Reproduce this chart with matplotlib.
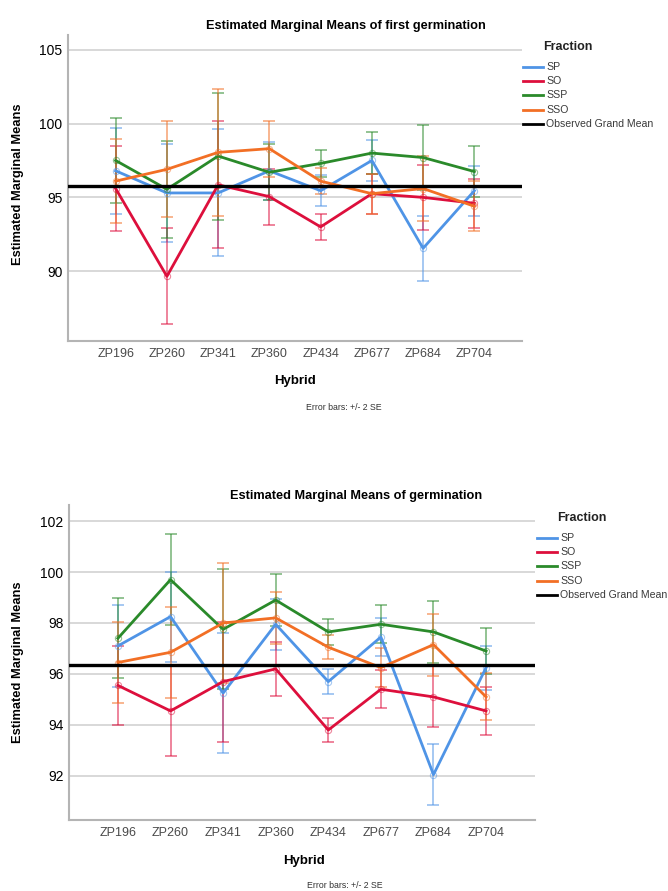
import matplotlib
matplotlib.use("Agg")
import matplotlib.pyplot as plt
import numpy as np

hybrids = ["ZP196", "ZP260", "ZP341", "ZP360", "ZP434", "ZP677", "ZP684", "ZP704"]
fractions = ["SP", "SO", "SSP", "SSO"]
colors = ["#4f94e6", "#dd0f3c", "#2a8a2a", "#f26f25"]

# first germination: means and 2*SE half widths
first_sp = [96.8, 95.3, 95.3, 96.8, 95.45, 97.5, 91.55, 95.45]
first_so = [95.6, 89.65, 95.85, 95.05, 93.0, 95.25, 95.0, 94.6]
first_ssp = [97.5, 95.55, 97.8, 96.7, 97.3, 98.0, 97.7, 96.75]
first_sso = [96.1, 96.9, 98.05, 98.3, 96.1, 95.25, 95.6, 94.4]
first_sp_err = [2.9, 3.3, 4.3, 1.95, 1.05, 1.4, 2.2, 1.7]
first_so_err = [2.85, 3.25, 4.3, 1.9, 0.9, 1.35, 2.2, 1.65]
first_ssp_err = [2.9, 3.3, 4.3, 1.9, 0.9, 1.4, 2.2, 1.7]
first_sso_err = [2.85, 3.25, 4.3, 1.9, 0.9, 1.35, 2.2, 1.7]
first_grand_mean = 95.74

# germination
germ_sp = [97.1, 98.25, 95.25, 97.95, 95.7, 97.45, 92.05, 96.25]
germ_so = [95.55, 94.55, 95.7, 96.2, 93.8, 95.4, 95.1, 94.55]
germ_ssp = [97.4, 99.7, 97.75, 98.9, 97.65, 97.95, 97.65, 96.9]
germ_sso = [96.45, 96.85, 98.0, 98.2, 97.05, 96.25, 97.15, 95.1]
germ_sp_err = [1.6, 1.77, 2.35, 1.0, 0.5, 0.75, 1.2, 0.86]
germ_so_err = [1.56, 1.78, 2.35, 1.07, 0.47, 0.75, 1.2, 0.93]
germ_ssp_err = [1.57, 1.78, 2.35, 1.03, 0.5, 0.75, 1.23, 0.91]
germ_sso_err = [1.58, 1.78, 2.35, 1.02, 0.48, 0.75, 1.22, 0.92]
germ_grand_mean = 96.35

plt.rcParams["font.family"] = ["Liberation Sans", "DejaVu Sans"]

W, H = 668, 891
fig = plt.figure(figsize=(W / 100, H / 100), dpi=100)


def px_axes(left, top, right, bottom):
    return fig.add_axes([left / W, 1 - bottom / H, (right - left) / W, (bottom - top) / H])


def ftext(x, y, s, **kw):
    fig.text(x / W, 1 - y / H, s, **kw)


def draw_panel(ax, means, errs, grand, ylim, yticks):
    x = np.arange(len(hybrids))
    for m, e, c in zip(means, errs, colors):
        ax.errorbar(x, m, yerr=e, fmt="none", ecolor=c, alpha=0.55,
                    elinewidth=1.3, capsize=4.5, capthick=1.3, zorder=2)
    for m, c in zip(means, colors):
        ax.plot(x, m, color=c, lw=2.0, zorder=3)
        ax.plot(x, m, ls="none", marker="o", ms=4.5, mfc="none", mec=c,
                mew=0.8, alpha=0.5, zorder=3)
    ax.axhline(grand, color="black", lw=2.4, zorder=4)
    ax.set_xlim(-0.93, len(hybrids) - 0.07)
    ax.set_ylim(*ylim)
    ax.set_yticks(yticks)
    ax.set_xticks(x)
    ax.set_xticklabels(hybrids, fontsize=9, color="#4a4a4a")
    ax.tick_params(axis="y", labelsize=10, length=0, pad=4)
    ax.tick_params(axis="x", length=0, pad=5)
    ax.yaxis.grid(True, color="#d6d6d6", lw=1.3)
    ax.set_axisbelow(True)
    for s in ["top", "right"]:
        ax.spines[s].set_visible(False)
    for s in ["left", "bottom"]:
        ax.spines[s].set_color("#b4b4b4")
        ax.spines[s].set_linewidth(1.5)


def draw_legend(x0, y0):
    ftext(x0 + 45, y0, "Fraction", fontsize=9, fontweight="bold",
          ha="center", va="center", color="#222222")
    names = fractions + ["Observed Grand Mean"]
    cols = colors + ["black"]
    for i, (n, c) in enumerate(zip(names, cols)):
        yy = y0 + 20 + i * 14.2
        fig.add_artist(plt.Line2D([x0 / W, (x0 + 20) / W], [1 - yy / H, 1 - yy / H],
                                  color=c, lw=2.0))
        ftext(x0 + 23, yy, n, fontsize=7.6, ha="left", va="center", color="#3a3a3a")


# top panel
ax1 = px_axes(68, 35, 522, 341)
draw_panel(ax1, [first_sp, first_so, first_ssp, first_sso],
           [first_sp_err, first_so_err, first_ssp_err, first_sso_err],
           first_grand_mean, (85.27, 106.0), [90, 95, 100, 105])
ftext(346, 26, "Estimated Marginal Means of first germination", fontsize=9.2,
      fontweight="bold", ha="center", va="center")
ftext(18, 184, "Estimated Marginal Means", fontsize=9.3, fontweight="bold",
      rotation=90, ha="center", va="center")
ftext(295, 381, "Hybrid", fontsize=9.5, fontweight="bold", ha="center", va="center")
ftext(344, 408, "Error bars: +/- 2 SE", fontsize=6.3, ha="center", va="center",
      color="#333333")
draw_legend(523, 47)

# bottom panel
ax2 = px_axes(69, 505, 535, 820)
draw_panel(ax2, [germ_sp, germ_so, germ_ssp, germ_sso],
           [germ_sp_err, germ_so_err, germ_ssp_err, germ_sso_err],
           germ_grand_mean, (90.27, 102.63), [92, 94, 96, 98, 100, 102])
ftext(356, 496, "Estimated Marginal Means of germination", fontsize=9.2,
      fontweight="bold", ha="center", va="center")
ftext(18, 662, "Estimated Marginal Means", fontsize=9.3, fontweight="bold",
      rotation=90, ha="center", va="center")
ftext(304, 861, "Hybrid", fontsize=9.5, fontweight="bold", ha="center", va="center")
ftext(345, 886, "Error bars: +/- 2 SE", fontsize=6.3, ha="center", va="center",
      color="#333333")
draw_legend(537, 518)

fig.savefig("out.png", dpi=100)
